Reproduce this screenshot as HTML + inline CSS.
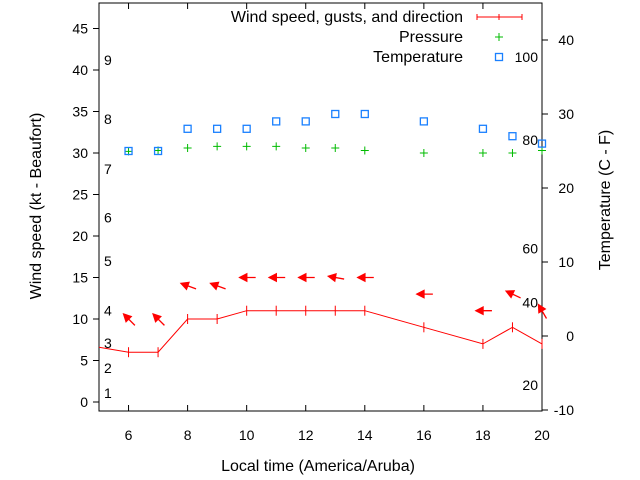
<!DOCTYPE html>
<html><head><meta charset="utf-8"><style>
body{margin:0;background:#fff;}
svg{display:block;font-family:"Liberation Sans",sans-serif;}
</style></head><body>
<svg id="chart" width="640" height="480" viewBox="0 0 640 480" xmlns="http://www.w3.org/2000/svg">
<g id="grid"></g>
<g id="marks"></g>
<g id="labels" font-size="16" fill="#000"></g>
</svg>
<script>
const hours=[6,7,8,9,10,11,12,13,14,16,18,19,20];
const windKt=[6,6,10,10,11,11,11,11,11,9,7,9,7];
const gustKt=[10,10,14,14,15,15,15,15,15,13,11,13,11];
const windDirDeg=[-135,-135,-160,-160,180,180,180,-170,180,180,180,-155,-120];
const pressure=[30.2,30.3,30.6,30.8,30.8,30.8,30.6,30.6,30.3,30.0,30.0,30.0,30.3];
const tempC=[25,25,28,28,28,29,29,30,30,29,28,27,26];
const xTicks=[6,8,10,12,14,16,18,20];
const yTicks=[0,5,10,15,20,25,30,35,40,45];
const y2Ticks=[-10,0,10,20,30,40];
const beaufort=[[1,1.1],[2,4.1],[3,7.1],[4,11],[5,17],[6,22.2],[7,28.1],[8,34.1],[9,41.2]];
const fahr=[[20,-6.6],[40,4.5],[60,11.8],[80,26.5],[100,37.7]];
const L=99,R=542,T=3,B=411;
const x=h=>L+(h-5)*(R-L)/15;
const y=v=>402-v*8.3;
const y2=t=>336-t*7.4;
const NS='http://www.w3.org/2000/svg';
function mk(tag,attrs,parent,text){const e=document.createElementNS(NS,tag);for(const k in attrs)e.setAttribute(k,attrs[k]);if(text!==undefined)e.textContent=text;document.getElementById(parent).appendChild(e);return e;}
let e=mk('rect',{x:L,y:T,width:R-L,height:B-T,fill:'none',stroke:'#000','stroke-width':1},'grid');


xTicks.forEach(h=>{
 let t=mk('path',{d:`M${x(h)},${B}v-6M${x(h)},${T}v6`,stroke:'#000'},'grid');
 
 
 let l=mk('text',{x:x(h),y:B+29,'text-anchor':'middle','font-size':14},'labels',h);
 
 
});
yTicks.forEach(v=>{
 let t=mk('path',{d:`M${L},${y(v)}h-6`,stroke:'#000'},'grid');
 
 
 let l=mk('text',{x:L-11,y:y(v)+5,'text-anchor':'end','font-size':14},'labels',v);
 
 
});
y2Ticks.forEach(v=>{
 let t=mk('path',{d:`M${R},${y2(v)}h6`,stroke:'#000'},'grid');
 
 
 let l=mk('text',{x:R+32,y:y2(v)+5,'text-anchor':'end','font-size':14},'labels',v);
 
 
});
beaufort.forEach(([n,v])=>{
 let l=mk('text',{x:104,y:y(v)+5,'font-size':14},'labels',n);
 
 
});
fahr.forEach(([f,c])=>{
 let l=mk('text',{x:538,y:y2(c)+5,'text-anchor':'end','font-size':14},'labels',f);
 
 
});
let pts=[[5,6.6]].concat(hours.map((h,i)=>[h,windKt[i]]));
e=mk('polyline',{points:pts.map(p=>x(p[0])+','+y(p[1])).join(' '),fill:'none',stroke:'#f00','stroke-width':1},'marks');


hours.forEach((h,i)=>{
 let t=mk('path',{d:`M${x(h)},${y(windKt[i])-5}v10`,stroke:'#f00'},'marks');
 
 
 const a=windDirDeg[i]*Math.PI/180,cx=x(h),cy=y(gustKt[i]);
 const hx=cx+Math.cos(a)*7,hy=cy+Math.sin(a)*7,tx=cx-Math.cos(a)*9,ty=cy-Math.sin(a)*9;
 const b1=a+Math.PI*0.85,b2=a-Math.PI*0.85;
 let g=mk('path',{d:`M${tx},${ty}L${hx},${hy}M${hx},${hy}L${hx+Math.cos(b1)*8},${hy+Math.sin(b1)*8}L${hx+Math.cos(b2)*8},${hy+Math.sin(b2)*8}Z`,stroke:'#f00',fill:'#f00','stroke-width':1.3},'marks');
 
 
 let p=mk('path',{d:`M${x(h)-4},${y(pressure[i])}h8M${x(h)},${y(pressure[i])-4}v8`,stroke:'#0b0'},'marks');
 
 
 let s=mk('rect',{x:x(h)-3.5,y:y2(tempC[i])-3.5,width:7,height:7,fill:'none',stroke:'#1a80ff','stroke-width':1.3},'marks');
 
 
});
[['Wind speed, gusts, and direction',22],['Pressure',42],['Temperature',62]].forEach(([t,yy])=>{
 let l=mk('text',{x:463,y:yy,'text-anchor':'end'},'labels',t);
 
 
});
e=mk('path',{d:'M477,17h45M477,14v6M499,14v6M522,14v6',stroke:'#f00'},'marks');


e=mk('path',{d:'M495,37h8M499,33v8',stroke:'#0b0'},'marks');


e=mk('rect',{x:495.5,y:53.5,width:7,height:7,fill:'none',stroke:'#1a80ff','stroke-width':1.3},'marks');


e=mk('text',{x:318,y:471,'text-anchor':'middle'},'labels','Local time (America/Aruba)');


e=mk('text',{x:0,y:0,'text-anchor':'middle',transform:'translate(41,206) rotate(-90)'},'labels','Wind speed (kt - Beaufort)');


e=mk('text',{x:0,y:0,'text-anchor':'middle',transform:'translate(610,200) rotate(-90)'},'labels','Temperature (C - F)');


</script>
</body></html>
